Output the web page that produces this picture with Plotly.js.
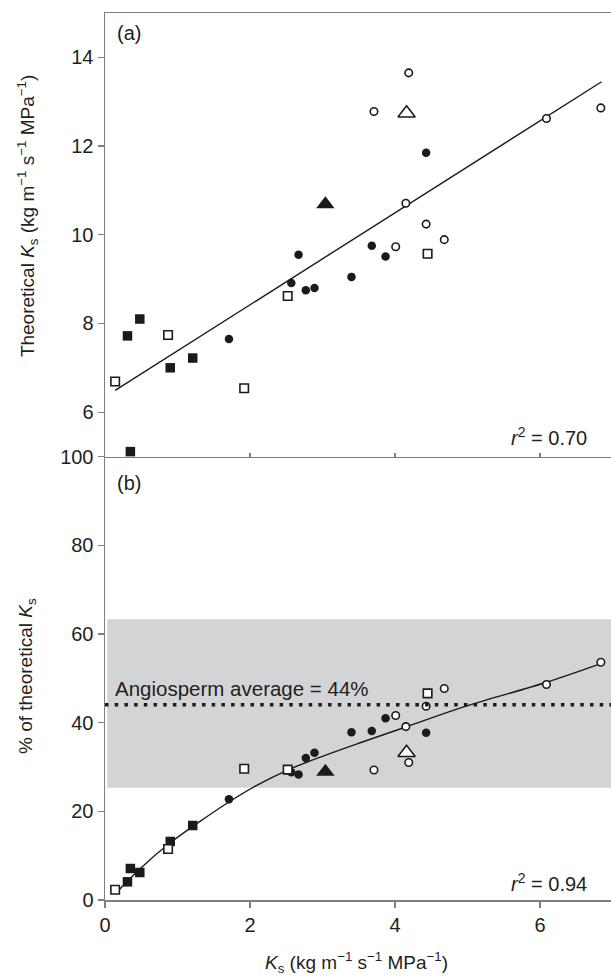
<!DOCTYPE html>
<html>
<head>
<meta charset="utf-8">
<script src="https://cdn.plot.ly/plotly-3.0.1.min.js"></script>
<style>html,body{margin:0;padding:0;background:#fff;}#chart{width:611px;height:976px;}</style>
</head>
<body>
<div id="chart"></div>
<script>
// Filled squares
var fsqX = [0.31, 0.35, 0.48, 0.90, 1.21];
var fsqTop = [7.72, 5.11, 8.10, 7.00, 7.22];
var fsqBot = [4.1, 7.1, 6.2, 13.2, 16.8];
// Open squares
var osqX = [0.14, 0.87, 1.92, 2.52, 4.45];
var osqTop = [6.69, 7.74, 6.54, 8.62, 9.57];
var osqBot = [2.3, 11.5, 29.6, 29.4, 46.6];
// Filled circles
var fcX = [1.71, 2.57, 2.67, 2.77, 2.89, 3.40, 3.68, 3.87, 4.43];
var fcTop = [7.65, 8.91, 9.55, 8.75, 8.80, 9.05, 9.75, 9.51, 11.85];
var fcBot = [22.7, 28.8, 28.3, 32.0, 33.2, 37.8, 38.1, 41.0, 37.7];
// Open circles
var ocX = [3.71, 4.01, 4.15, 4.19, 4.43, 4.68, 6.09, 6.84];
var ocTop = [12.78, 9.73, 10.71, 13.65, 10.24, 9.89, 12.62, 12.86];
var ocBot = [29.3, 41.6, 39.1, 31.0, 43.7, 47.7, 48.6, 53.6];
// Triangles
var ftX = [3.04], ftTop = [10.69], ftBot = [28.9];
var otX = [4.16], otTop = [12.74], otBot = [33.2];
// Fitted line (a) and curve (b)
var fitAX = [0.14, 6.85];
var fitAY = [6.49, 13.45];
var fitBX = [0.14, 0.48, 0.90, 1.30, 1.71, 2.10, 2.52, 3.00, 3.51, 4.15, 4.98, 6.09, 6.84];
var fitBY = [1.35, 7.0, 12.9, 17.6, 22.1, 25.9, 29.3, 32.4, 35.4, 39.0, 43.7, 49.1, 53.3];
// Reference band and average
var bandLow = 25.3, bandHigh = 63.3, angioAvg = 44;
var topTicks = [6, 8, 10, 12, 14];
var botTicks = [0, 20, 40, 60, 80, 100];
var xTicks = [0, 2, 4, 6];

var ink = '#1c1a1b';
var axc = '#7d7f82';
var FONT = 'Liberation Sans, Arial, sans-serif';

function pts(x, y, xa, ya, symbol, size, filled) {
  return {
    x: x, y: y, xaxis: xa, yaxis: ya, type: 'scatter', mode: 'markers',
    cliponaxis: false, hoverinfo: 'skip', showlegend: false,
    marker: {
      symbol: symbol, size: size,
      color: filled ? ink : '#ffffff',
      line: {color: ink, width: filled ? 0 : 1.6}
    }
  };
}

var data = [
  {x: fitAX, y: fitAY, xaxis: 'x2', yaxis: 'y', mode: 'lines', line: {color: ink, width: 1.4}, showlegend: false, hoverinfo: 'skip'},
  {x: fitBX, y: fitBY, xaxis: 'x', yaxis: 'y2', mode: 'lines', line: {color: ink, width: 1.4, shape: 'spline', smoothing: 1}, showlegend: false, hoverinfo: 'skip'},
  pts(fcX, fcTop, 'x2', 'y', 'circle', 8.5, true),
  pts(fcX, fcBot, 'x', 'y2', 'circle', 8.5, true),
  pts(fsqX, fsqTop, 'x2', 'y', 'square', 9.5, true),
  pts(fsqX, fsqBot, 'x', 'y2', 'square', 9.5, true),
  pts(osqX, osqTop, 'x2', 'y', 'square', 8.5, false),
  pts(osqX, osqBot, 'x', 'y2', 'square', 8.5, false),
  pts(ocX, ocTop, 'x2', 'y', 'circle', 7.5, false),
  pts(ocX, ocBot, 'x', 'y2', 'circle', 7.5, false),
  pts(ftX, ftTop, 'x2', 'y', 'triangle-up', 16, true),
  pts(ftX, ftBot, 'x', 'y2', 'triangle-up', 16, true),
  pts(otX, otTop, 'x2', 'y', 'triangle-up', 15, false),
  pts(otX, otBot, 'x', 'y2', 'triangle-up', 15, false)
];

var tickFont = {family: FONT, size: 20, color: '#231f20'};
var layout = {
  width: 611, height: 976,
  margin: {l: 105, r: 0, t: 13, b: 76},
  paper_bgcolor: '#ffffff', plot_bgcolor: 'rgba(0,0,0,0)',
  font: {family: FONT, color: '#231f20'},
  xaxis: {
    anchor: 'y2', domain: [0, 1], range: [0, 6.98],
    tickvals: xTicks, ticks: 'outside', ticklen: 6, tickwidth: 1.3, tickcolor: axc,
    showline: true, linecolor: axc, linewidth: 1.5, showgrid: false, zeroline: false,
    tickfont: tickFont
  },
  xaxis2: {
    anchor: 'y', matches: 'x', range: [0, 6.98],
    tickvals: xTicks, ticks: 'inside', ticklen: 4, tickwidth: 1.3, tickcolor: axc,
    showticklabels: false, showline: true, mirror: true, linecolor: axc, linewidth: 1.5,
    showgrid: false, zeroline: false
  },
  yaxis: {
    anchor: 'x2', domain: [0.5, 1], range: [5, 15],
    tickvals: topTicks, ticks: 'outside', ticklen: 6, tickwidth: 1.3, tickcolor: axc,
    showline: true, linecolor: axc, linewidth: 1.5, showgrid: false, zeroline: false,
    tickfont: tickFont
  },
  yaxis2: {
    anchor: 'x', domain: [0, 0.5], range: [0, 100],
    tickvals: botTicks, ticks: 'outside', ticklen: 6, tickwidth: 1.3, tickcolor: axc,
    showline: true, linecolor: axc, linewidth: 1.5, showgrid: false, zeroline: false,
    tickfont: tickFont
  },
  shapes: [
    {type: 'rect', xref: 'x', yref: 'y2', x0: 0.03, x1: 7, y0: bandLow, y1: bandHigh,
     fillcolor: '#d3d4d6', line: {width: 0}, layer: 'below'},
    {type: 'line', xref: 'x', yref: 'y2', x0: 0, x1: 7, y0: angioAvg, y1: angioAvg,
     line: {color: ink, width: 3.5, dash: '3.5px,6.2px'}, layer: 'above'}
  ],
  annotations: [
    {xref: 'paper', yref: 'paper', x: 0, y: 0.771, xshift: -78, textangle: -90,
     xanchor: 'center', yanchor: 'middle', showarrow: false,
     text: 'Theoretical <i>K</i><sub>s</sub> (kg m<sup>−1</sup> s<sup>−1</sup> MPa<sup>−1</sup>)',
     font: {family: FONT, size: 19, color: '#231f20'}},
    {xref: 'paper', yref: 'paper', x: 0, y: 0.2525, xshift: -78, textangle: -90,
     xanchor: 'center', yanchor: 'middle', showarrow: false,
     text: '% of theoretical <i>K</i><sub>s</sub>',
     font: {family: FONT, size: 19, color: '#231f20'}},
    {xref: 'paper', yref: 'paper', x: 0.498, y: -0.0705,
     xanchor: 'center', yanchor: 'middle', showarrow: false,
     text: '<i>K</i><sub>s</sub> (kg m<sup>−1</sup> s<sup>−1</sup> MPa<sup>−1</sup>)',
     font: {family: FONT, size: 19, color: '#231f20'}},
    {xref: 'paper', yref: 'paper', x: 0.0198, y: 0.977, xanchor: 'left', yanchor: 'middle',
     showarrow: false, text: '(a)', font: {family: FONT, size: 20, color: '#231f20'}},
    {xref: 'paper', yref: 'paper', x: 0.0198, y: 0.470, xanchor: 'left', yanchor: 'middle',
     showarrow: false, text: '(b)', font: {family: FONT, size: 20, color: '#231f20'}},
    {xref: 'paper', yref: 'paper', x: 0.9565, y: 0.523, xanchor: 'right', yanchor: 'middle',
     showarrow: false, text: '<i>r</i><sup>2</sup> = 0.70', font: {family: FONT, size: 20, color: '#231f20'}},
    {xref: 'paper', yref: 'paper', x: 0.9565, y: 0.0192, xanchor: 'right', yanchor: 'middle',
     showarrow: false, text: '<i>r</i><sup>2</sup> = 0.94', font: {family: FONT, size: 20, color: '#231f20'}},
    {xref: 'paper', yref: 'paper', x: 0.0158, y: 0.238, xanchor: 'left', yanchor: 'middle',
     showarrow: false, text: 'Angiosperm average = 44%', font: {family: FONT, size: 20.5, color: '#231f20'}}
  ]
};

Plotly.newPlot('chart', data, layout, {staticPlot: true, displayModeBar: false});
</script>
</body>
</html>
